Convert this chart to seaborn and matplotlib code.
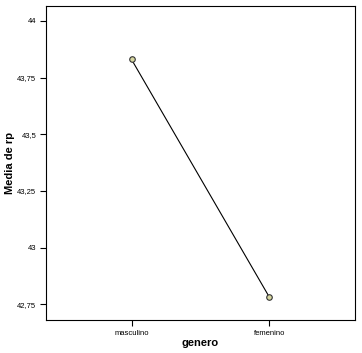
import matplotlib
matplotlib.use("Agg")
import matplotlib.pyplot as plt
import seaborn as sns
import pandas as pd
from matplotlib.ticker import FixedLocator, FuncFormatter

genero = ["masculino", "femenino"]
media_rp = [43.83, 42.78]
yticks = [42.75, 43.0, 43.25, 43.5, 43.75, 44.0]

sns.set_style("white")
plt.rcParams['font.family'] = ['Liberation Sans', 'DejaVu Sans']
plt.rcParams['axes.labelcolor'] = 'black'
plt.rcParams['text.color'] = 'black'

df = pd.DataFrame({"genero": genero, "media": media_rp})

fig = plt.figure(figsize=(3.62, 3.53), dpi=100)
ax = fig.add_axes([46/362, 1 - 320/353, (355-46)/362, (320-6)/353])

sns.pointplot(data=df, x="genero", y="media", order=genero, color="black",
              markers="o", markersize=4, linewidth=0.8, ax=ax, errorbar=None)
for coll in ax.lines:
    coll.set_markerfacecolor("#d6d6a0")
    coll.set_markeredgecolor("#333333")
    coll.set_markeredgewidth(0.8)
for c in ax.collections:
    c.set_facecolor("#d6d6a0")
    c.set_edgecolor("#333333")

ax.set_xlim(-0.62, 1.62)
ax.set_ylim(42.68, 44.066)
ax.yaxis.set_major_locator(FixedLocator(yticks))
ax.yaxis.set_major_formatter(FuncFormatter(lambda v, p: ("%g" % v).replace(".", ",")))
ax.tick_params(axis="both", direction="out", length=4, width=0.8, labelsize=5.5,
               left=True, bottom=True, colors="black", labelcolor="black", pad=3)
for s in ax.spines.values():
    s.set_visible(True)
    s.set_color("black")
    s.set_linewidth(0.8)
ax.set_xlabel("genero", fontsize=8, fontweight="bold", va="center", color="black")
ax.set_ylabel("Media de rp", fontsize=8, fontweight="bold", va="center", color="black")
ax.xaxis.set_label_coords(0.5, -23/314)
ax.yaxis.set_label_coords(-36/309, 0.5)

fig.savefig("out.png", dpi=100)
